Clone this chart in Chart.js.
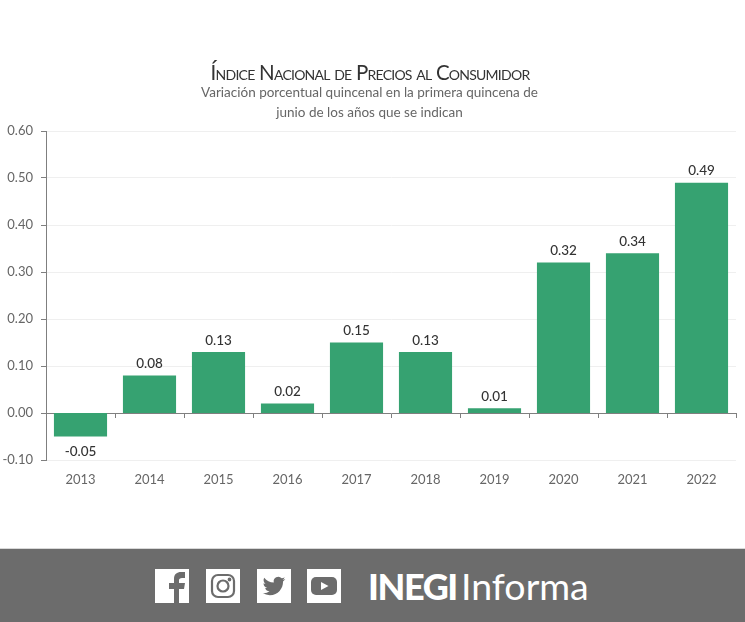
<!DOCTYPE html>
<html lang="es">
<head>
<meta charset="utf-8">
<title>Índice Nacional de Precios al Consumidor</title>
<script src="https://cdn.jsdelivr.net/npm/chart.js@4"></script>
<style>
  html, body { margin: 0; padding: 0; background: #fff; }
  #pagina { position: relative; width: 745px; height: 622px; overflow: hidden; font-family: Lato, sans-serif; }
  #grafica { position: absolute; left: 0; top: 0; }
  .titulo { position: absolute; left: 0; width: 739px; text-align: center; white-space: nowrap; }
  #t1 { top: 61px; width: 740px; font-size: 20.5px; line-height: 22px; color: #333; font-variant: small-caps; letter-spacing: -0.75px; }
  #t2 { top: 82px; font-size: 13.5px; line-height: 20px; color: #666; }
  #pie { position: absolute; left: 0; top: 548px; width: 745px; height: 74px; background: #6c6c6c; border-top: 1px solid #d8d8d8; box-sizing: border-box; }
  .icono { position: absolute; top: 20px; width: 34px; height: 34px; background: #fff; }
  .icono svg { display: block; width: 34px; height: 34px; }
  #logo1, #logo2 { position: absolute; color: #fff; white-space: nowrap; line-height: 40px; top: 17px; }
  #logo1 { left: 368px; font-size: 36px; font-weight: 900; letter-spacing: -1.4px; }
  #logo2 { left: 461px; font-size: 37.5px; font-weight: 400; }
</style>
</head>
<body>
<div id="pagina">
  <canvas id="grafica" width="745" height="622"></canvas>
  <div class="titulo" id="t1">Índice Nacional de Precios al Consumidor</div>
  <div class="titulo" id="t2">Variación porcentual quincenal en la primera quincena de<br>junio de los años que se indican</div>
  <div id="pie">
    <div class="icono" style="left:155px"><svg viewBox="0 0 34 34"><path fill="#6c6c6c" d="M19 34V20h-5v-6h5v-4c0-5 3-7 7-7h4v6h-3c-2 0-3 1-3 2v3h6l-1 6h-5v14z"/></svg></div>
    <div class="icono" style="left:206px"><svg viewBox="0 0 34 34" fill="none" stroke="#6c6c6c" stroke-width="2.2"><rect x="6" y="6" width="22" height="22" rx="6"/><circle cx="17" cy="17" r="5.5"/><circle cx="23.5" cy="10.5" r="0.8" fill="#6c6c6c"/></svg></div>
    <div class="icono" style="left:257px"><svg viewBox="-6 -6 36 36"><path fill="#6c6c6c" d="M23.953 4.57a10 10 0 01-2.825.775 4.958 4.958 0 002.163-2.723c-.951.555-2.005.959-3.127 1.184a4.92 4.92 0 00-8.384 4.482C7.69 8.095 4.067 6.13 1.64 3.162a4.822 4.822 0 00-.666 2.475c0 1.71.87 3.213 2.188 4.096a4.904 4.904 0 01-2.228-.616v.06a4.923 4.923 0 003.946 4.827 4.996 4.996 0 01-2.212.085 4.936 4.936 0 004.604 3.417 9.867 9.867 0 01-6.102 2.105c-.39 0-.779-.023-1.17-.067a13.995 13.995 0 007.557 2.209c9.053 0 13.998-7.496 13.998-13.985 0-.21 0-.42-.015-.63A9.935 9.935 0 0024 4.59z"/></svg></div>
    <div class="icono" style="left:307px"><svg viewBox="0 0 34 34"><rect x="4" y="8" width="26" height="18" rx="5" fill="#6c6c6c"/><path fill="#fff" d="M14 13l7.5 4-7.5 4z"/></svg></div>
    <div id="logo1">INEGI</div>
    <div id="logo2">Informa</div>
  </div>
</div>
<script>
// Datos
const anios = ["2013", "2014", "2015", "2016", "2017", "2018", "2019", "2020", "2021", "2022"];
const variacion = [-0.05, 0.08, 0.13, 0.02, 0.15, 0.13, 0.01, 0.32, 0.34, 0.49];

// Colores
const verde = "#36a271";
const grisEje = "#7f7f7f";
const grisTexto = "#666666";

// Plugin para escribir el valor sobre cada barra
const etiquetas = {
  id: "etiquetas",
  afterDatasetsDraw(chart) {
    const { ctx } = chart;
    const barras = chart.getDatasetMeta(0).data;
    ctx.save();
    ctx.font = "500 13.5px Lato, sans-serif";
    ctx.fillStyle = "#333333";
    ctx.textAlign = "center";
    barras.forEach((barra, i) => {
      const valor = variacion[i];
      if (valor < 0) {
        ctx.textBaseline = "top";
        ctx.fillText(valor.toFixed(2), barra.x, barra.y + 8);
      } else {
        ctx.textBaseline = "bottom";
        ctx.fillText(valor.toFixed(2), barra.x, barra.y - 5);
      }
    });
    ctx.restore();
  },
};

new Chart(document.getElementById("grafica"), {
  type: "bar",
  data: {
    labels: anios,
    datasets: [
      {
        data: variacion,
        backgroundColor: verde,
        borderWidth: 0,
        barPercentage: 0.77,
        categoryPercentage: 1,
      },
    ],
  },
  options: {
    responsive: false,
    animation: false,
    layout: { padding: { top: 131, right: 9, bottom: 132, left: 0 } },
    plugins: { legend: { display: false }, tooltip: { enabled: false } },
    scales: {
      // Años abajo de la gráfica
      x: {
        position: "bottom",
        offset: true,
        grid: { display: false, drawTicks: false },
        border: { display: false },
        ticks: { color: grisTexto, font: { family: "Lato", size: 13 }, padding: 12, maxRotation: 0 },
        afterFit(scale) {
          scale.height = 30;
        },
      },
      // Línea del cero con sus marcas
      cero: {
        type: "category",
        axis: "x",
        labels: anios,
        position: { y: 0 },
        offset: true,
        border: { display: true, color: grisEje, width: 1 },
        grid: { drawOnChartArea: false, tickLength: 4, tickColor: grisEje },
        ticks: { display: false },
      },
      y: {
        min: -0.1,
        max: 0.6,
        border: { color: grisEje, width: 1 },
        grid: { color: "#efefef", tickColor: grisEje, tickLength: 5 },
        ticks: {
          stepSize: 0.1,
          color: grisTexto,
          font: { family: "Lato", size: 13 },
          padding: 8,
          //evita que el cero salga como -0.00
          callback: (v) => (Math.abs(v) < 1e-9 ? 0 : v).toFixed(2),
        },
        afterFit(scale) {
          scale.width = 46;
        },
      },
    },
  },
  plugins: [etiquetas],
});
</script>
</body>
</html>
